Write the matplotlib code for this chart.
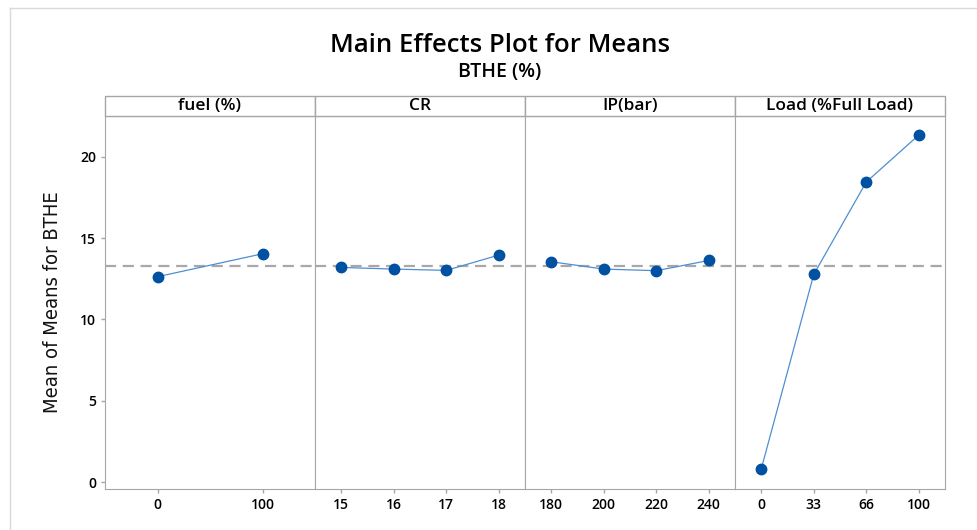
import matplotlib.pyplot as plt
from matplotlib.patches import Rectangle
from matplotlib.lines import Line2D

# data
factors = ["fuel (%)", "CR", "IP(bar)", "Load (%Full Load)"]
fuel_levels = ["0", "100"]
fuel_means = [12.62, 14.03]
cr_levels = ["15", "16", "17", "18"]
cr_means = [13.19, 13.09, 13.01, 13.95]
ip_levels = ["180", "200", "220", "240"]
ip_means = [13.54, 13.09, 12.99, 13.62]
load_levels = ["0", "33", "66", "100"]
load_means = [0.80, 12.76, 18.44, 21.33]
grand_mean = 13.30

levels = [fuel_levels, cr_levels, ip_levels, load_levels]
means = [fuel_means, cr_means, ip_means, load_means]

W, H = 977, 530
fig = plt.figure(figsize=(W / 100, H / 100), dpi=100)
plt.rcParams["font.family"] = ["Open Sans", "DejaVu Sans"]

gray = "#a6a6a6"
left, right, bottom, top, strip_top = 105, 945, 489, 116, 96
pw = (right - left) / 4

axes = []
for i in range(4):
    ax = fig.add_axes([(left + i * pw) / W, (H - bottom) / H, pw / W, (bottom - top) / H])
    x = list(range(len(levels[i])))
    ax.axhline(grand_mean, color="#a8a8a8", lw=1.6, ls=(0, (5, 3)), zorder=1)
    ax.plot(x, means[i], color="#4f8fd0", lw=0.9, zorder=2)
    ax.plot(x, means[i], "o", color="#0051a2", ms=7.5, zorder=3)
    ax.set_xlim(-0.5, len(x) - 0.5)
    ax.set_ylim(-0.43, 22.5)
    ax.set_xticks(x)
    ax.set_xticklabels(levels[i], fontsize=10, fontweight="semibold")
    for s in ax.spines.values():
        s.set_color(gray)
    ax.tick_params(colors=gray, labelcolor="black", length=3, width=1)
    if i == 0:
        ax.set_yticks([0, 5, 10, 15, 20])
        ax.tick_params(axis="y", labelsize=10)
        for t in ax.get_yticklabels():
            t.set_fontweight("semibold")
    else:
        ax.set_yticks([])
    axes.append(ax)

    # factor header strip
    fig.patches.append(Rectangle(((left + i * pw) / W, (H - top) / H), pw / W,
                                 (top - strip_top) / H, transform=fig.transFigure,
                                 facecolor="white", edgecolor=gray, lw=1))
    fig.text((left + (i + 0.5) * pw) / W, (H - (top + strip_top) / 2) / H, factors[i],
             ha="center", va="center", fontsize=12.5, fontweight="semibold")

axes[0].set_ylabel("Mean of Means for BTHE", fontsize=14.5, family="DejaVu Sans",
                   fontstretch="condensed", labelpad=13, color="#111111")

fig.text(500 / W, 1 - 46 / H, "Main Effects Plot for Means", ha="center", va="center",
         fontsize=18.5, fontweight="semibold")
fig.text(500 / W, 1 - 72 / H, "BTHE (%)", ha="center", va="center",
         fontsize=14, fontweight="semibold")

# outer frame (top and left edges visible)
fig.lines.append(Line2D([10 / W, 1], [1 - 8 / H, 1 - 8 / H], transform=fig.transFigure,
                        color="#d9d9d9", lw=1))
fig.lines.append(Line2D([10 / W, 10 / W], [0, 1 - 8 / H], transform=fig.transFigure,
                        color="#d9d9d9", lw=1))

fig.savefig("out.png", dpi=100)
